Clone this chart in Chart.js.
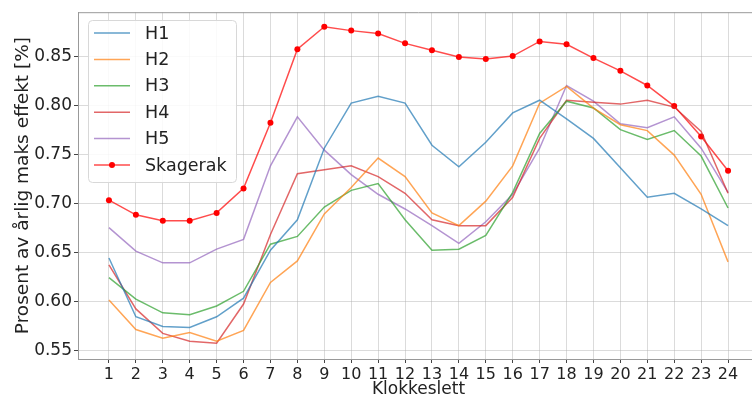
<!DOCTYPE html>
<html>
<head>
<meta charset="utf-8">
<script src="https://cdn.jsdelivr.net/npm/chart.js@4.4.0/dist/chart.umd.min.js"></script>
<style>
  html, body { margin: 0; padding: 0; background: #fff; overflow: hidden; }
  #wrap { width: 768px; height: 400px; }
</style>
</head>
<body>
<div id="wrap"><canvas id="chart"></canvas></div>
<script>
// Hours of the day (x axis)
const hours = [1, 2, 3, 4, 5, 6, 7, 8, 9, 10, 11, 12, 13, 14, 15, 16, 17, 18, 19, 20, 21, 22, 23, 24];
const yTicks = [0.55, 0.60, 0.65, 0.70, 0.75, 0.80, 0.85];

const h1 = [0.644, 0.584, 0.574, 0.573, 0.584, 0.603, 0.652, 0.683, 0.756, 0.802, 0.809, 0.802, 0.759, 0.737, 0.762, 0.792, 0.805, 0.786, 0.766, 0.736, 0.706, 0.710, 0.694, 0.677];
const h2 = [0.601, 0.571, 0.562, 0.568, 0.559, 0.570, 0.619, 0.641, 0.689, 0.716, 0.746, 0.727, 0.690, 0.677, 0.702, 0.738, 0.802, 0.819, 0.797, 0.780, 0.774, 0.749, 0.709, 0.640];
const h3 = [0.624, 0.602, 0.588, 0.586, 0.595, 0.610, 0.658, 0.666, 0.696, 0.713, 0.720, 0.683, 0.652, 0.653, 0.667, 0.711, 0.771, 0.804, 0.797, 0.775, 0.765, 0.774, 0.748, 0.695];
const h4 = [0.637, 0.592, 0.567, 0.559, 0.557, 0.597, 0.668, 0.730, 0.734, 0.738, 0.727, 0.710, 0.683, 0.677, 0.677, 0.706, 0.766, 0.805, 0.803, 0.801, 0.805, 0.798, 0.773, 0.710];
const h5 = [0.675, 0.651, 0.639, 0.639, 0.653, 0.663, 0.738, 0.788, 0.754, 0.729, 0.709, 0.694, 0.677, 0.659, 0.681, 0.709, 0.756, 0.820, 0.804, 0.781, 0.777, 0.788, 0.756, 0.711];
const skagerak = [0.703, 0.688, 0.682, 0.682, 0.690, 0.715, 0.782, 0.857, 0.880, 0.876, 0.873, 0.863, 0.856, 0.849, 0.847, 0.850, 0.865, 0.862, 0.848, 0.835, 0.820, 0.799, 0.768, 0.733];

const FONT = "'DejaVu Sans', sans-serif";

function toPoints(values) {
    return hours.map((h, i) => ({ x: h, y: values[i] }));
}

function series(label, values, color) {
    return {
        label: label,
        data: toPoints(values),
        borderColor: color,
        backgroundColor: color,
        borderWidth: 1.5,
        pointRadius: 0,
        tension: 0
    };
}

// Legend drawn inside the plot area, matplotlib style
const insideLegend = {
    id: 'insideLegend',
    afterDatasetsDraw(chart) {
        const ctx = chart.ctx;
        const x0 = 88, y0 = 20, w = 148, h = 162;
        ctx.save();
        ctx.fillStyle = 'rgba(255,255,255,0.85)';
        ctx.strokeStyle = '#d8d8d8';
        ctx.lineWidth = 1;
        ctx.beginPath();
        ctx.roundRect(x0 + 0.5, y0 + 0.5, w, h, 4);
        ctx.fill();
        ctx.stroke();
        ctx.font = '17.5px ' + FONT;
        ctx.textBaseline = 'middle';
        chart.data.datasets.forEach((ds, i) => {
            const y = 33 + i * 26.4;
            ctx.strokeStyle = ds.borderColor;
            ctx.lineWidth = 1.5;
            ctx.beginPath();
            ctx.moveTo(94, y);
            ctx.lineTo(130, y);
            ctx.stroke();
            if (ds.pointRadius > 0) {
                ctx.fillStyle = ds.pointBackgroundColor;
                ctx.beginPath();
                ctx.arc(112, y, 3, 0, Math.PI * 2);
                ctx.fill();
            }
            ctx.fillStyle = '#222';
            ctx.fillText(ds.label, 145, y + 1);
        });
        ctx.restore();
    }
};

const skagerakSet = series('Skagerak', skagerak, 'rgba(255,0,0,0.7)');
skagerakSet.pointRadius = 3;
skagerakSet.pointBackgroundColor = '#ff0000';
skagerakSet.pointBorderWidth = 0;

new Chart(document.getElementById('chart'), {
    type: 'line',
    data: {
        datasets: [
            series('H1', h1, 'rgba(31,119,180,0.7)'),
            series('H2', h2, 'rgba(255,127,14,0.7)'),
            series('H3', h3, 'rgba(44,160,44,0.7)'),
            series('H4', h4, 'rgba(214,39,40,0.7)'),
            series('H5', h5, 'rgba(148,103,189,0.7)'),
            skagerakSet
        ]
    },
    options: {
        responsive: true,
        maintainAspectRatio: false,
        animation: false,
        layout: { padding: { top: 10, right: 9, left: 0, bottom: 0 } },
        plugins: {
            legend: { display: false },
            tooltip: { enabled: false }
        },
        scales: {
            x: {
                type: 'linear',
                min: -0.15,
                max: 25.15,
                afterBuildTicks: axis => { axis.ticks = hours.map(v => ({ value: v })); },
                afterFit: axis => { axis.height = 41; },
                ticks: {
                    autoSkip: false,
                    maxRotation: 0,
                    padding: 2,
                    color: '#222',
                    font: { family: FONT, size: 16 },
                    callback: v => String(v)
                },
                grid: { color: 'rgba(176,176,176,0.45)', tickColor: '#444', tickLength: 4 },
                border: { color: '#999' },
                title: {
                    display: true,
                    text: 'Klokkeslett',
                    color: '#222',
                    font: { family: FONT, size: 17 },
                    padding: { top: 0, bottom: 0 }
                }
            },
            y: {
                min: 0.5409,
                max: 0.8948,
                afterBuildTicks: axis => { axis.ticks = yTicks.map(v => ({ value: v })); },
                afterFit: axis => { axis.width = 78; },
                ticks: {
                    padding: 2,
                    color: '#222',
                    font: { family: FONT, size: 17 },
                    callback: v => v.toFixed(2)
                },
                grid: { color: 'rgba(176,176,176,0.45)', tickColor: '#444', tickLength: 4 },
                border: { color: '#999' },
                title: {
                    display: true,
                    text: 'Prosent av årlig maks effekt [%]',
                    color: '#222',
                    font: { family: FONT, size: 18.5 },
                    padding: { top: 12, bottom: 0 }
                }
            }
        }
    },
    plugins: [insideLegend, {
        id: 'topRightFrame',
        afterDraw(chart) {
            const a = chart.chartArea, ctx = chart.ctx;
            ctx.save();
            ctx.strokeStyle = '#999';
            ctx.lineWidth = 1;
            ctx.beginPath();
            ctx.moveTo(a.left, a.top + 0.5);
            ctx.lineTo(a.right, a.top + 0.5);
            ctx.lineTo(a.right - 0.5, a.bottom);
            ctx.stroke();
            ctx.restore();
        }
    }]
});
</script>
</body>
</html>
